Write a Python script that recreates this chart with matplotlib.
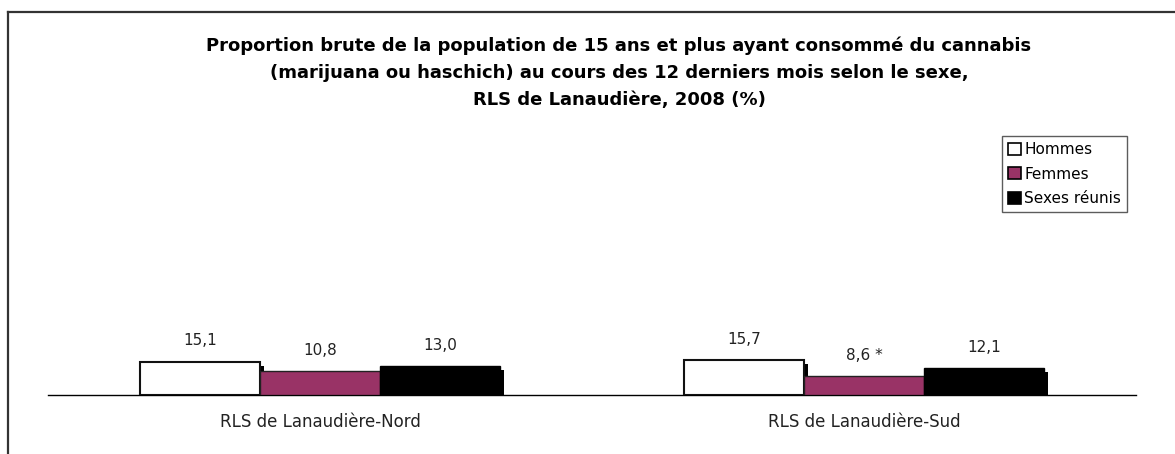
import matplotlib
matplotlib.use("Agg")
import matplotlib.pyplot as plt
from matplotlib.lines import Line2D
from matplotlib.patches import Patch

W, H = 1175, 454

regions = ["RLS de Lanaudière-Nord", "RLS de Lanaudière-Sud"]
series = ["Hommes", "Femmes", "Sexes réunis"]
hommes = [15.1, 15.7]
femmes = [10.8, 8.6]
sexes = [13.0, 12.1]
femmes_flag = ["", " *"]  # coefficient de variation élevé
title_lines = [
    "Proportion brute de la population de 15 ans et plus ayant consommé du cannabis",
    "(marijuana ou haschich) au cours des 12 derniers mois selon le sexe,",
    "RLS de Lanaudière, 2008 (%)",
]

FACES = ["white", "#993366", "black"]
EDGES = ["#111111", "#222222", "black"]


def fmt(v):
    return f"{v:.1f}".replace(".", ",")


plt.rcParams["font.family"] = "DejaVu Sans"
fig = plt.figure(figsize=(W / 100, H / 100), dpi=100)

# cadre (bord gauche et haut seulement visibles)
frame = dict(color="#333333", lw=1.6, transform=fig.transFigure)
fig.add_artist(Line2D([8 / W, 8 / W], [0, 1 - 12 / H], **frame))
fig.add_artist(Line2D([8 / W, 1], [1 - 12 / H, 1 - 12 / H], **frame))

ax = fig.add_axes([48 / W, 1 - 395 / H, (1136 - 48) / W, 220 / H])
ax.set_xlim(-0.5, 1.5)
ax.set_ylim(0, 100)

bw = 120 / 544
dx = 4 / 544          # ombre : 4 px à droite
dy = 4 / 2.2          # et 4 px plus bas
values = [hommes, femmes, sexes]
z = 2
for k, vals in enumerate(values):
    xs = [i + (k - 1) * bw for i in range(len(regions))]
    ax.bar([x + dx for x in xs], [v - dy for v in vals], width=bw,
           color="black", lw=0, zorder=z)
    ax.bar(xs, vals, width=bw, color=FACES[k], edgecolor=EDGES[k],
           lw=1.5 if k == 0 else 1.0, zorder=z + 1)
    z += 2
    for i, (x, v) in enumerate(zip(xs, vals)):
        lab = fmt(v) + (femmes_flag[i] if k == 1 else "")
        ax.annotate(lab, (x, v), xytext=(0, 15), textcoords="offset points",
                    ha="center", va="center", fontsize=11, color="#222222")

for s in ["top", "right", "left"]:
    ax.spines[s].set_visible(False)
ax.spines["bottom"].set_color("black")
ax.spines["bottom"].set_linewidth(1.0)
ax.set_yticks([])
ax.set_xticks(range(len(regions)))
ax.set_xticklabels(regions, fontsize=12, color="#222222")
ax.tick_params(axis="x", length=0, pad=13)

for j, line in enumerate(title_lines):
    fig.text(619 / W, 1 - (46 + 27 * j) / H, line, ha="center", va="center",
             fontsize=13, fontweight="bold", color="black")

handles = [Patch(facecolor=FACES[k], edgecolor="black", lw=1.2)
           for k in range(3)]
leg = fig.legend(handles, series, loc="upper right",
                 bbox_to_anchor=(1127 / W, 1 - 136 / H), fontsize=11,
                 frameon=True, fancybox=False, handlelength=0.85,
                 handleheight=0.85, handletextpad=0.2, labelspacing=0.62,
                 borderpad=0.4, borderaxespad=0)
leg.get_frame().set_edgecolor("#333333")
leg.get_frame().set_linewidth(1.0)

fig.savefig("out.png", dpi=100)
